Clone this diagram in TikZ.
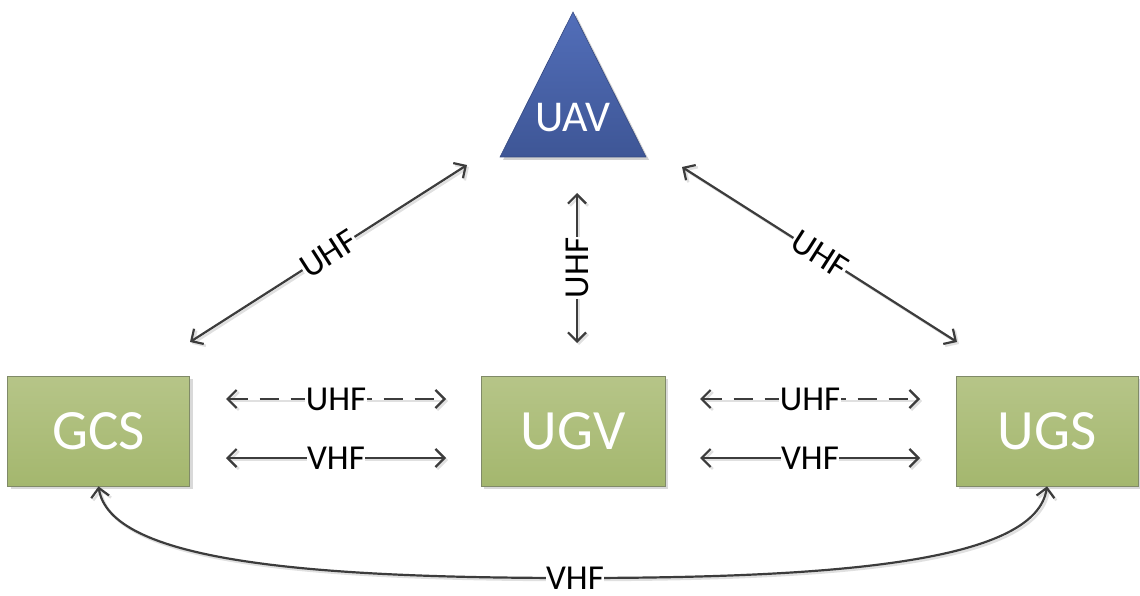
\documentclass[tikz,border=0pt]{standalone}
\usepackage{fontspec}
\setmainfont{Carlito}
\usetikzlibrary{arrows.meta,shadows}
\definecolor{boxtop}{RGB}{182,197,136}
\definecolor{boxbot}{RGB}{164,183,110}
\definecolor{boxline}{RGB}{128,138,104}
\definecolor{uavtop}{RGB}{82,110,185}
\definecolor{uavbot}{RGB}{62,86,150}
\definecolor{conn}{RGB}{60,60,60}
\tikzset{
  gbox/.style={draw=boxline, line width=0.8pt, top color=boxtop, bottom color=boxbot,
    minimum width=182pt, minimum height=110pt, inner sep=0pt, text=white,
    font=\fontsize{57}{60}\selectfont,
    drop shadow={shadow xshift=3pt, shadow yshift=-3pt, fill=black!25, opacity=0.6}},
  link/.style={draw=conn, line width=2.2pt, {Straight Barb[length=9pt,width=18pt]}-{Straight Barb[length=9pt,width=18pt]},
    preaction={draw=black!12, line width=2.5pt, transform canvas={shift={(2pt,-2pt)}}}},
  dlink/.style={link, dash pattern=on 19pt off 12pt},
  lab/.style={fill=white, inner sep=0.5pt, text=black, font=\fontsize{35}{38}\selectfont},
}
\begin{document}
\begin{tikzpicture}[x=1pt,y=-1pt]
\useasboundingbox (0,0) rectangle (1140,596);
% UAV triangle
\coordinate (apex) at (573,12);
\coordinate (bl) at (500,157);
\coordinate (br) at (646,157);
\fill[black!18, transform canvas={shift={(3pt,-3pt)}}] (apex) -- (bl) -- (br) -- cycle;
\shade[top color=uavtop, bottom color=uavbot] (apex) -- (bl) -- (br) -- cycle;
\draw[uavbot!85!black, line width=0.6pt] (apex) -- (bl) -- (br) -- cycle;
\node[text=white, font=\fontsize{44}{46}\selectfont, inner sep=0pt] (uav) at (573,118) {UAV};
% boxes
\node[gbox] (gcs) at (98.5,431) {GCS};
\node[gbox, minimum width=184pt] (ugv) at (573,431) {UGV};
\node[gbox] (ugs) at (1047,431) {UGS};
% end points
\coordinate (a1) at (190,342);
\coordinate (a2) at (467,165);
\coordinate (b1) at (577,343);
\coordinate (b2) at (577,193);
\coordinate (c1) at (682,167);
\coordinate (c2) at (957,342);
\coordinate (h1) at (226,399);
\coordinate (h2) at (446,399);
\coordinate (h3) at (226,458);
\coordinate (h4) at (446,458);
\coordinate (h5) at (700,399);
\coordinate (h6) at (920,399);
\coordinate (h7) at (700,458);
\coordinate (h8) at (920,458);
\coordinate (mid) at (575,578);
% connectors
\draw[link] (a1) -- node[lab, sloped] (l1) {UHF} (a2);
\draw[link] (b1) -- node[lab, sloped] (l2) {UHF} (b2);
\draw[link] (c1) -- node[lab, sloped] (l3) {UHF} (c2);
\draw[dlink] (h1) -- node[lab] (l4) {UHF} (h2);
\draw[link] (h3) -- node[lab] (l5) {VHF} (h4);
\draw[dlink] (h5) -- node[lab] (l6) {UHF} (h6);
\draw[link] (h7) -- node[lab] (l7) {VHF} (h8);
\draw[link] (gcs.south) .. controls (110,560) and (300,578) .. (mid)
  .. controls (850,578) and (1036,560) .. (ugs.south);
\node[lab] (l8) at (mid) {VHF};
\end{tikzpicture}
\end{document}
